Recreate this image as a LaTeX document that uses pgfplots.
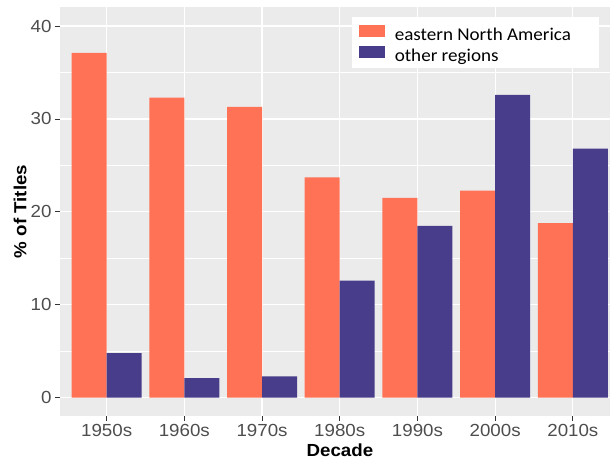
\documentclass[border=0pt]{standalone}
\usepackage{pgfplots}
\pgfplotsset{compat=1.18}
\usepackage{fontspec}
\setmainfont[FakeStretch=1.07]{Liberation Sans}
\newfontfamily\calibri[FakeStretch=1.06]{Carlito}
\definecolor{bg}{HTML}{EBEBEB}
\definecolor{ena}{HTML}{FF7256}
\definecolor{oth}{HTML}{483D8B}
\definecolor{ticklab}{HTML}{4D4D4D}
\definecolor{tickmk}{HTML}{333333}
\pgfplotstableread{
x ena oth
0 37.1 4.8
1 32.3 2.1
2 31.3 2.3
3 23.7 12.6
4 21.5 18.5
5 22.3 32.6
6 18.8 26.8
}\datatable
\newcommand{\legtxt}[1]{\makebox[197pt][l]{\rule[-5.5pt]{0pt}{23.5pt}#1}}
\begin{document}
\begin{tikzpicture}
\path[use as bounding box] (-60pt,-45pt) rectangle (550pt,416pt);
\begin{axis}[
  at={(0pt,0pt)}, anchor=south west,
  scale only axis, width=550pt, height=409pt,
  xmin=-0.6, xmax=6.478, ymin=-1.97, ymax=42.05,
  axis background/.style={fill=bg},
  axis line style={draw=none},
  ybar=0pt, bar width=35pt,
  xtick={0,1,2,3,4,5,6},
  xticklabels={1950s,1960s,1970s,1980s,1990s,2000s,2010s},
  ytick={0,10,20,30,40}, minor ytick={5,15,25,35},
  xmajorgrids, ymajorgrids, yminorgrids,
  major grid style={white, line width=1.1pt},
  minor grid style={white, line width=0.55pt},
  tick pos=left, tick align=outside,
  major tick length=5pt, minor tick length=0pt,
  tick style={color=tickmk, line width=0.9pt},
  ticklabel style={font=\fontsize{17.5}{20}\selectfont, text=ticklab},
  /pgf/number format/assume math mode=true,
  xlabel={Decade}, ylabel={\% of Titles},
  label style={font=\fontsize{17.5}{20}\selectfont\bfseries, text=black},
  xlabel style={at={(axis description cs:0.509,-0.0831)}, anchor=center},
  ylabel style={at={(axis description cs:-0.0727,0.5)}, anchor=center},
  legend style={at={(axis description cs:0.98,0.9756)}, anchor=north east,
    draw=none, fill=white, font=\calibri\fontsize{18}{21}\selectfont,
    inner xsep=7pt, inner ysep=5pt, row sep=1.5pt,
    nodes={inner sep=0pt}},
  legend cell align=left,
]
\addplot[fill=ena, draw=none, legend image code/.code={\fill[ena] (0pt,-5.45pt) rectangle (25.7pt,7.05pt); \path (35.7pt,0pt);}] table[x=x, y=ena] {\datatable};
\addlegendentry{\legtxt{eastern North America}}
\addplot[fill=oth, draw=none, legend image code/.code={\fill[oth] (0pt,-5.45pt) rectangle (25.7pt,7.05pt); \path (35.7pt,0pt);}] table[x=x, y=oth] {\datatable};
\addlegendentry{\legtxt{other regions}}
\end{axis}
\end{tikzpicture}
\end{document}
